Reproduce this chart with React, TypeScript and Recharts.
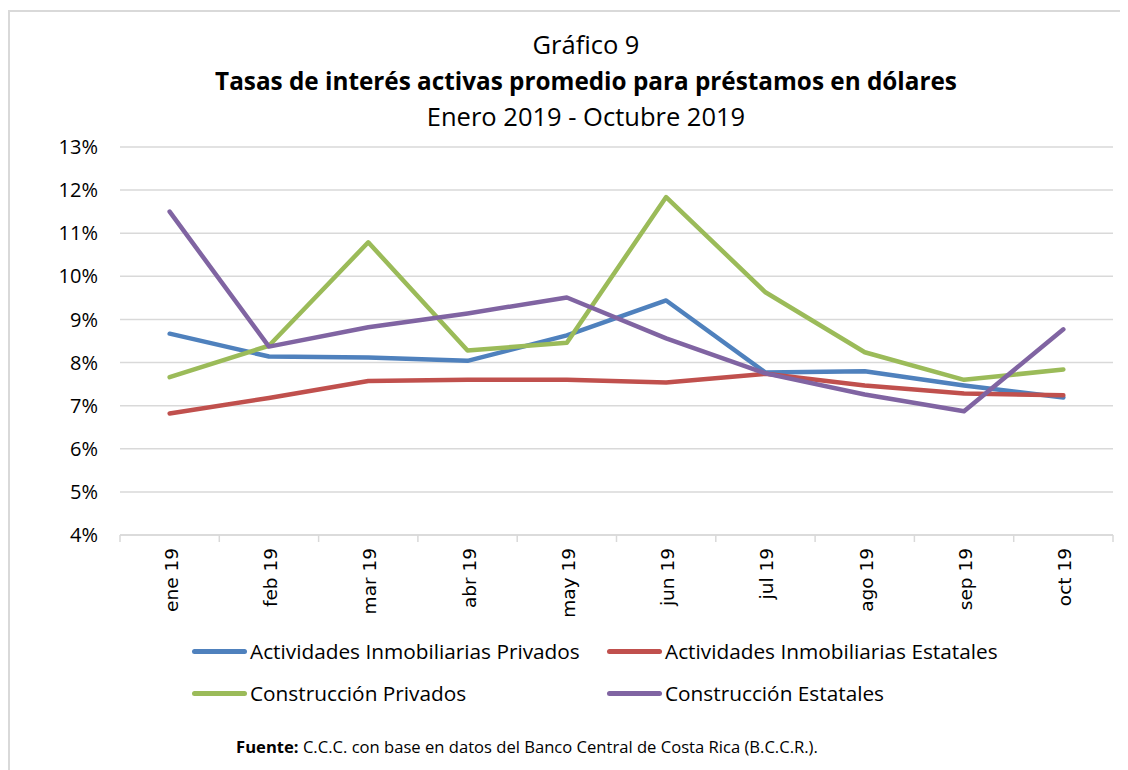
import { LineChart, Line, XAxis, YAxis, CartesianGrid } from "recharts";

const months = ["ene 19", "feb 19", "mar 19", "abr 19", "may 19", "jun 19", "jul 19", "ago 19", "sep 19", "oct 19"];

const inmobPrivados = [8.67, 8.14, 8.12, 8.04, 8.63, 9.44, 7.77, 7.8, 7.47, 7.19];
const inmobEstatales = [6.82, 7.18, 7.57, 7.6, 7.6, 7.54, 7.74, 7.47, 7.28, 7.24];
const construccionPrivados = [7.66, 8.39, 10.79, 8.28, 8.46, 11.84, 9.63, 8.24, 7.6, 7.84];
const construccionEstatales = [11.5, 8.37, 8.82, 9.14, 9.51, 8.56, 7.75, 7.26, 6.87, 8.77];

const yTicks = [4, 5, 6, 7, 8, 9, 10, 11, 12, 13];

const series = [
  { key: "inmobPrivados", name: "Actividades Inmobiliarias Privados", color: "#4F81BD", values: inmobPrivados },
  { key: "inmobEstatales", name: "Actividades Inmobiliarias Estatales", color: "#C0504D", values: inmobEstatales },
  { key: "construccionPrivados", name: "Construcción Privados", color: "#9BBB59", values: construccionPrivados },
  { key: "construccionEstatales", name: "Construcción Estatales", color: "#8064A2", values: construccionEstatales },
];

const data = months.map((m, i) => {
  const row: any = { month: m };
  series.forEach((s) => {
    row[s.key] = s.values[i];
  });
  return row;
});

const FONT = "'Open Sans', sans-serif";
const BAND = 993 / months.length;

function MonthTick(props: any) {
  const { x, y, payload, index } = props;
  const left = x - BAND / 2;
  const right = x + BAND / 2;
  return (
    <g>
      <line x1={left} y1={y} x2={left} y2={y + 7} stroke="#d9d9d9" strokeWidth={1.5} />
      {index === months.length - 1 && (
        <line x1={right} y1={y} x2={right} y2={y + 7} stroke="#d9d9d9" strokeWidth={1.5} />
      )}
      <text
        transform={`translate(${x + 8},${y + 13}) rotate(-90)`}
        textAnchor="end"
        fontFamily="'DejaVu Sans', sans-serif"
        fontSize={18.5}
        fill="#000"
      >
        {payload.value}
      </text>
    </g>
  );
}

const centered = (top: number, size: number, weight: number, cx: number) => ({
  position: "absolute" as const,
  left: cx - 500,
  width: 1000,
  top: top - 18,
  height: 36,
  lineHeight: "36px",
  textAlign: "center" as const,
  fontFamily: FONT,
  fontSize: size,
  fontWeight: weight,
  color: "#000",
  whiteSpace: "nowrap" as const,
});

export default function App() {
  const legendPos = [
    { left: 182, top: 639 },
    { left: 597, top: 639 },
    { left: 182, top: 681 },
    { left: 597, top: 681 },
  ];

  return (
    <div
      style={{
        position: "relative",
        width: 1120,
        height: 760,
        marginTop: 2,
        borderLeft: "2px solid #d9d9d9",
        borderTop: "2px solid #d9d9d9",
        boxSizing: "border-box",
        background: "#fff",
      }}
    >
      <div style={{ position: "absolute", left: 0, top: 0 }}>
        <LineChart
          width={1118}
          height={758}
          data={data}
          margin={{ top: 135, right: 15, left: 30, bottom: 135 }}
        >
          <CartesianGrid vertical={false} stroke="#d9d9d9" strokeWidth={1.5} />
          <XAxis
            dataKey="month"
            height={100}
            interval={0}
            padding={{ left: BAND / 2, right: BAND / 2 }}
            tickLine={false}
            tickSize={0}
            tickMargin={0}
            axisLine={{ stroke: "#d9d9d9", strokeWidth: 1.5 }}
            tick={<MonthTick />}
          />
          <YAxis
            width={80}
            domain={[4, 13]}
            ticks={yTicks}
            interval={0}
            axisLine={false}
            tickLine={false}
            tickSize={0}
            tickMargin={22}
            tickFormatter={(v: number) => `${v}%`}
            tick={{ fontFamily: FONT, fontSize: 20, fill: "#000" }}
          />
          {series.map((s) => (
            <Line
              key={s.key}
              dataKey={s.key}
              name={s.name}
              type="linear"
              stroke={s.color}
              strokeWidth={4.5}
              strokeLinecap="round"
              strokeLinejoin="round"
              dot={false}
              activeDot={false}
              isAnimationActive={false}
            />
          ))}
        </LineChart>
      </div>

      <div style={centered(32, 25.5, 400, 576)}>Gráfico 9</div>
      <div style={centered(69, 24.3, 700, 576)}>
        Tasas de interés activas promedio para préstamos en dólares
      </div>
      <div style={centered(104, 25.5, 400, 576)}>Enero 2019 - Octubre 2019</div>

      {series.map((s, i) => (
        <div
          key={s.key}
          style={{
            position: "absolute",
            left: legendPos[i].left,
            top: legendPos[i].top - 15,
            height: 30,
            display: "flex",
            alignItems: "center",
            fontFamily: FONT,
            fontSize: 20.8,
            color: "#000",
            whiteSpace: "nowrap",
          }}
        >
          <span
            style={{
              display: "inline-block",
              width: 55,
              height: 5,
              borderRadius: 3,
              background: s.color,
              marginRight: 3,
            }}
          />
          {s.name}
        </div>
      ))}

      <div style={centered(735, 16.6, 400, 517)}>
        <b>Fuente:</b> C.C.C. con base en datos del Banco Central de Costa Rica (B.C.C.R.).
      </div>
    </div>
  );
}
